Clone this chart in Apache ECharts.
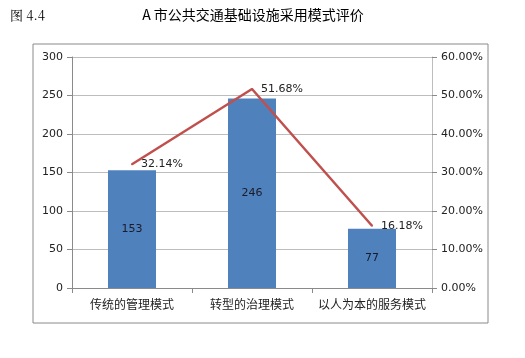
<!DOCTYPE html>
<html><head><meta charset="utf-8">
<script src="https://cdn.jsdelivr.net/npm/echarts@6/dist/echarts.min.js"></script>
<style>html,body{margin:0;padding:0;background:#fff}#c{width:525px;height:358px}</style>
</head><body><div id="c"></div>
<script>
const categories = ['传统的管理模式', '转型的治理模式', '以人为本的服务模式'];
const counts = [153, 246, 77];
const percents = [32.14, 51.68, 16.18];
const leftTicks = [0, 50, 100, 150, 200, 250, 300];
const rightTicks = [0, 10, 20, 30, 40, 50, 60];

const chart = echarts.init(document.getElementById('c'), null, {renderer: 'canvas'});
const lblFont = 'Verdana, "DejaVu Sans", sans-serif';
chart.setOption({
  animation: false,
  backgroundColor: '#fff',
  graphic: [
    {type: 'rect', shape: {x: 33, y: 44, width: 455, height: 279}, style: {fill: 'none', stroke: '#8a8a8a', lineWidth: 1}},
    {type: 'text', left: 10, top: 9, style: {text: '图 4.4', font: '13px "Noto Serif CJK SC", "Noto Sans CJK SC", serif', fill: '#000'}},
    {type: 'text', x: 253, y: 8, style: {text: 'A 市公共交通基础设施采用模式评价', textAlign: 'center', font: '14px "Noto Sans CJK SC", serif', fill: '#000'}}
  ],
  grid: {left: 72, right: 93, top: 57, bottom: 70},
  xAxis: {
    type: 'category', data: categories,
    axisLine: {lineStyle: {color: '#8a8a8a'}},
    axisTick: {show: true, length: 5, lineStyle: {color: '#8a8a8a'}},
    axisLabel: {color: '#222', fontSize: 12, margin: 10, interval: 0, hideOverlap: false, fontFamily: '"Noto Sans CJK SC", sans-serif'}
  },
  yAxis: [
    {type: 'value', min: 0, max: 300, interval: 50,
     axisLine: {show: true, lineStyle: {color: '#8a8a8a'}},
     axisTick: {show: true, length: 5, lineStyle: {color: '#8a8a8a'}},
     splitLine: {lineStyle: {color: '#bdbdbd'}},
     axisLabel: {color: '#222', fontSize: 11, margin: 9, fontFamily: lblFont}},
    {type: 'value', min: 0, max: 60, interval: 10, position: 'right',
     axisLine: {show: true, lineStyle: {color: '#bdbdbd'}},
     axisTick: {show: true, length: 5, lineStyle: {color: '#8a8a8a'}},
     splitLine: {show: false},
     axisLabel: {color: '#222', fontSize: 11, margin: 9, fontFamily: lblFont,
       formatter: v => v.toFixed(2) + '%'}}
  ],
  series: [
    {type: 'bar', data: counts, barWidth: '40%', yAxisIndex: 0, z: 2,
     itemStyle: {color: '#4f81bd'},
     label: {show: true, position: 'inside', color: '#1a1a2a', fontSize: 11, fontFamily: lblFont}},
    {type: 'line', data: percents, yAxisIndex: 1, symbol: 'circle', symbolSize: 2, showSymbol: true, z: 5,
     itemStyle: {color: '#c0504d'},
     lineStyle: {color: '#c0504d', width: 2.5},
     labelLayout: {hideOverlap: false},
     label: {show: true, position: 'right', distance: 8, color: '#222', fontSize: 11, fontFamily: lblFont,
       formatter: p => p.value.toFixed(2) + '%'}}
  ]
});
</script></body></html>
